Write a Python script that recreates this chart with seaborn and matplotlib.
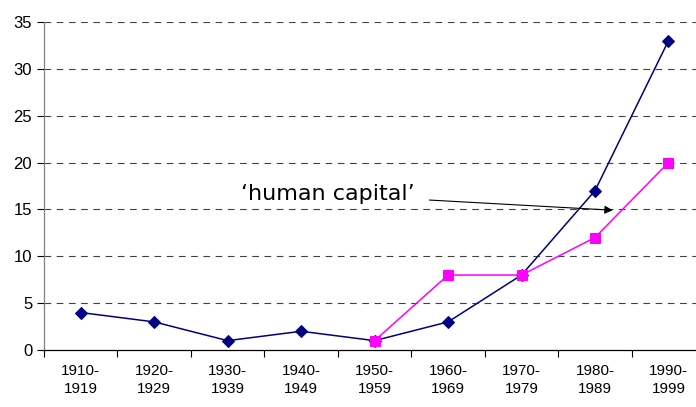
import numpy as np
import pandas as pd
import seaborn as sns
import matplotlib.pyplot as plt
from matplotlib.ticker import FixedLocator

decades = ["1910-\n1919", "1920-\n1929", "1930-\n1939", "1940-\n1949", "1950-\n1959",
           "1960-\n1969", "1970-\n1979", "1980-\n1989", "1990-\n1999"]
series_a = [4, 3, 1, 2, 1, 3, 8, 17, 33]
series_b = [np.nan, np.nan, np.nan, np.nan, 1, 8, 8, 12, 20]
yticks = [0, 5, 10, 15, 20, 25, 30, 35]

sns.set_style("white")
plt.rcParams['font.family'] = ['Liberation Sans', 'DejaVu Sans']
plt.rcParams['text.color'] = 'black'
plt.rcParams['xtick.color'] = 'black'
plt.rcParams['ytick.color'] = 'black'

df = pd.DataFrame({"x": np.arange(len(decades)), "a": series_a, "b": series_b})

fig = plt.figure(figsize=(6.96, 4.07), dpi=100)
ax = fig.add_axes([0.0632, 0.140, 0.95, 0.806])

# gridlines first so the lines sit on top
for yv in yticks[1:]:
    ax.axhline(yv, color='black', linestyle=(0, (6, 5)), linewidth=0.8, alpha=0.75, zorder=0)

sns.lineplot(x="x", y="a", data=df, color="#000080", marker="D", markersize=6,
             markeredgecolor="#000080", linewidth=1.1, ax=ax, zorder=3)
sns.lineplot(x="x", y="b", data=df.dropna(), color="#FF00FF", marker="s", markersize=6.5,
             markeredgecolor="#FF00FF", linewidth=1.1, ax=ax, zorder=4)

ax.annotate("\u2018human capital\u2019", xy=(7.28, 14.9), xytext=(4.55, 16.6),
            fontsize=16, family='DejaVu Sans', ha='right', va='center', color='black',
            arrowprops=dict(arrowstyle='-|>', color='black', lw=0.8, mutation_scale=12,
                            shrinkA=8))

ax.set_xlim(-0.5, 8.5)
ax.set_ylim(0, 35)
ax.set_yticks(yticks)
ax.set_xticks(np.arange(len(decades)))
ax.set_xticklabels(decades, fontsize=11, linespacing=1.4)
ax.xaxis.set_minor_locator(FixedLocator(np.arange(-0.5, 9, 1)))
ax.tick_params(axis='x', which='major', length=0, pad=10)
ax.tick_params(axis='x', which='minor', length=5, width=0.8, direction='out', color='black', bottom=True)
ax.tick_params(axis='y', length=5, width=0.8, direction='out', color='black', labelsize=12, left=True)
ax.set_xlabel("")
ax.set_ylabel("")

for s in ['top', 'right']:
    ax.spines[s].set_visible(False)
ax.spines['left'].set_color('#808080')
ax.spines['bottom'].set_color('black')
ax.spines['left'].set_linewidth(0.9)
ax.spines['bottom'].set_linewidth(0.9)

fig.savefig("out.png", dpi=100)
